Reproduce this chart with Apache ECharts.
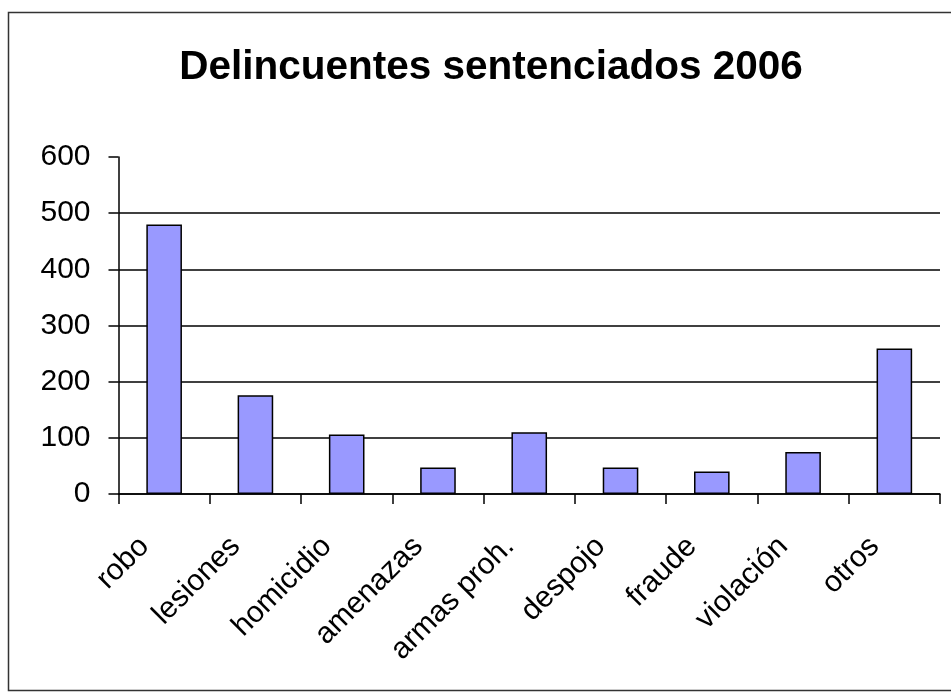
<!DOCTYPE html>
<html>
<head>
<meta charset="utf-8">
<script src="https://cdn.jsdelivr.net/npm/echarts@6/dist/echarts.min.js"></script>
<style>
html,body{margin:0;padding:0;background:#fff;}
#main{width:951px;height:699px;}
</style>
</head>
<body>
<div id="main"></div>
<script>
const titleText = "Delincuentes sentenciados 2006";
const categories = ["robo", "lesiones", "homicidio", "amenazas", "armas proh.", "despojo", "fraude", "violación", "otros"];
const values = [480, 176, 106, 47, 110, 47, 40, 75, 259];
const yTicks = [0, 100, 200, 300, 400, 500, 600];

const chart = echarts.init(document.getElementById('main'), null, {renderer: 'canvas'});
const FONT = '"Liberation Sans", Arial, sans-serif';
chart.setOption({
  animation: false,
  backgroundColor: '#ffffff',
  title: {
    text: titleText,
    left: 486,
    textAlign: 'center',
    top: 42,
    textStyle: {fontFamily: FONT, fontSize: 40.5, fontWeight: 'bold', color: '#000'}
  },
  graphic: [{
    type: 'rect',
    shape: {x: 8.5, y: 12.5, width: 1000, height: 678},
    style: {fill: 'none', stroke: '#333', lineWidth: 1.5},
    silent: true
  }],
  grid: {left: 118.5, right: 11, top: 157, bottom: 205, containLabel: false},
  xAxis: {
    type: 'category',
    data: categories,
    boundaryGap: true,
    axisLine: {lineStyle: {color: '#000', width: 1.5}},
    axisTick: {show: true, length: 10, inside: false, lineStyle: {color: '#000', width: 1.5}},
    axisLabel: {
      rotate: 45, margin: 28, interval: 0, padding: [0, 28, 0, 0],
      fontFamily: FONT, fontSize: 30, color: '#000'
    }
  },
  yAxis: {
    type: 'value',
    min: yTicks[0], max: yTicks[yTicks.length - 1], interval: 100,
    axisLine: {show: true, lineStyle: {color: '#000', width: 1.5}},
    axisTick: {show: true, length: 10, lineStyle: {color: '#000', width: 1.5}},
    axisLabel: {margin: 28, fontFamily: FONT, fontSize: 30, color: '#000'},
    splitLine: {show: true, showMaxLine: false, lineStyle: {color: '#000', width: 1.5}}
  },
  series: [{
    type: 'bar',
    data: values,
    barWidth: '39%',
    itemStyle: {color: '#9999FF', borderColor: '#000', borderWidth: 1.5}
  }]
});
</script>
</body>
</html>
